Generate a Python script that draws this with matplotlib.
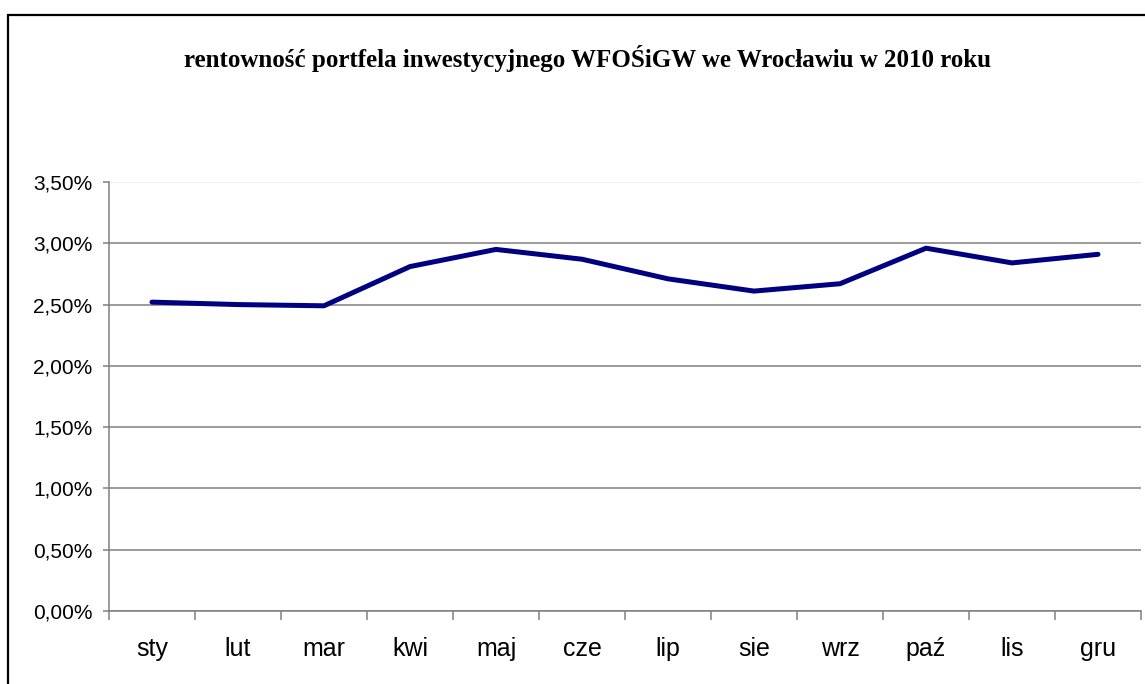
import matplotlib.pyplot as plt
import matplotlib.ticker as mticker
from matplotlib.patches import Rectangle

months = ['sty', 'lut', 'mar', 'kwi', 'maj', 'cze', 'lip', 'sie', 'wrz', 'paź', 'lis', 'gru']
rentownosc = [2.52, 2.50, 2.49, 2.81, 2.95, 2.87, 2.71, 2.61, 2.67, 2.96, 2.84, 2.91]
y_ticks = [0.0, 0.5, 1.0, 1.5, 2.0, 2.5, 3.0, 3.5]

plt.rcParams['font.family'] = 'Liberation Sans'

fig = plt.figure(figsize=(11.45, 6.84), dpi=100)
fig.patch.set_facecolor('white')

# outer chart frame (runs off the right/bottom edge like the original)
fig.patches.append(Rectangle((8 / 1145, -0.05), 1.2, 1 - 15 / 684 + 0.05,
                             transform=fig.transFigure, fill=False,
                             edgecolor='black', linewidth=1.6))

ax = fig.add_axes([109 / 1145, 73 / 684, 1032 / 1145, 429 / 684])
x = list(range(len(months)))
ax.plot(x, rentownosc, color='#000080', linewidth=3.6, solid_capstyle='round')

ax.set_xlim(-0.5, len(months) - 0.5)
ax.set_ylim(0, 3.5)

ax.set_yticks(y_ticks)
ax.yaxis.set_major_formatter(mticker.FuncFormatter(lambda v, p: f'{v:.2f}%'.replace('.', ',')))
ax.grid(axis='y', color='#808080', linewidth=1.1)
ax.get_ygridlines()[-1].set_color('#eeeeee')

ax.set_xticks([i - 0.5 for i in range(len(months) + 1)])
ax.set_xticklabels([])
ax.set_xticks(x, minor=True)
ax.set_xticklabels(months, minor=True)

for s in ['top', 'right']:
    ax.spines[s].set_visible(False)
for s in ['left', 'bottom']:
    ax.spines[s].set_color('#808080')
    ax.spines[s].set_linewidth(1.1)

ax.tick_params(axis='y', which='major', direction='out', length=4, width=1.1,
               color='#808080', pad=8, labelsize=15)
ax.tick_params(axis='x', which='major', direction='out', length=6.5, width=1.1,
               color='#808080')
ax.tick_params(axis='x', which='minor', length=0, pad=19, labelsize=18)

fig.text(588 / 1145, 1 - 59 / 684, 'rentowność portfela inwestycyjnego WFOŚiGW we Wrocławiu w 2010 roku',
         ha='center', va='center', fontsize=18, fontweight='bold', family='Liberation Serif')

fig.savefig('out.png', dpi=100)
